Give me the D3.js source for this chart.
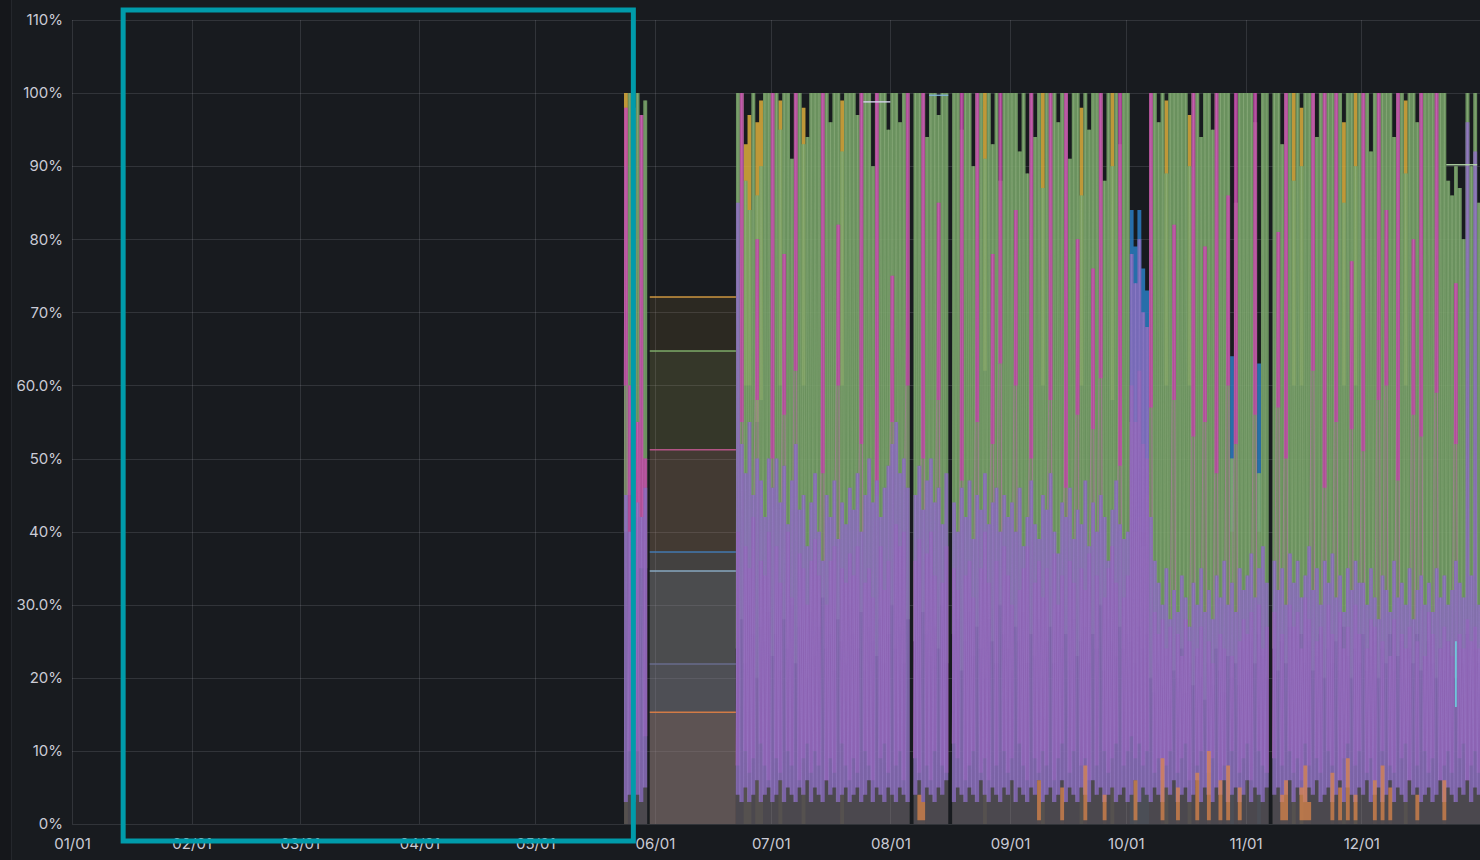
<!DOCTYPE html>
<html>
<head>
<meta charset="utf-8">
<script src="https://cdn.jsdelivr.net/npm/d3@7"></script>
<style>
  html, body { margin: 0; padding: 0; background: #181b1f; }
  svg { display: block; }
</style>
</head>
<body>
<div id="chart"></div>
<script>
const W = 1480, H = 860;
const margin = { top: 20, right: 0, bottom: 36, left: 72 };

const xTickLabels = ['01/01', '02/01', '03/01', '04/01', '05/01', '06/01',
  '07/01', '08/01', '09/01', '10/01', '11/01', '12/01'];
const yTicks = [0, 10, 20, 30, 40, 50, 60, 70, 80, 90, 100, 110];
const yTickLabels = ['0%', '10%', '20%', '30.0%', '40%', '50%', '60.0%',
  '70%', '80%', '90%', '100%', '110%'];

// flat stretch between the two busy periods
const flatStart = '2023-05-30T16:00';
const flatEnd = '2023-06-22T00:00';
const flatValues = [72.1, 64.7, 51.2, 37.2, 34.6, 21.9, 15.3];

// busy periods: one low/high pair per day
const segmentStarts = ['2023-05-24', '2023-06-22'];
const segmentDays = [6, 193];

const greenHi = [
  90, 100, 98, 100, 97, 99,
  100, 100, 88, 84, 100, 86, 90, 100, 100,
  100, 100, 95, 100, 100, 91, 100, 100, 93, 94, 100,
  100, 100, 100, 100, 96, 100, 100, 92, 100, 100,
  100, 97, 100, 100, 100, 90, 100, 100, 100, 95,
  100, 100, 96, 100, 100, null, 100, 100, 100, 94,
  100, 100, 97, 100, 100, null, 100, 100, 95, 100,
  100, 90, 100, 100, 91, 100, 93, 100, 88, 100, 100,
  100, 100, 92, 100, 89, 100, 94, 100, 87, 100,
  100, 100, 96, 100, 100, 91, 100, 100, 86, 100,
  95, 100, 100, 100, 88, 100, 90, 100, 93, 100,
  100, 55, 40, 42, 38, 45, 100, 100, 96, 100,
  89, 100, 100, 100, 100, 100, 90, 100, 100, 94,
  100, 100, 95, 100, 100, 100, 100, 50, 85, 100, 100,
  100, 100, 96, 48, 100, 100, null, 100, 100,
  93, 100, 100, 88, 100, 90, 100, 100, 100, 94,
  100, 100, 100, 100, 100, 100, 85, 100, 100, 90, 100,
  100, 100, 92, 100, 100, 100, 100, 100, 94, 100,
  100, 89, 100, 100, 96, 100, 100, 100, 100, 100,
  100, 100, 88, 86, 90, 87, 80, 100, 90, 100, 85
];
const greenLo = [
  40, 45, 38, 42, 40, 35,
  24, 28, 22, 30, 26, 20, 27, 25, 29, 23,
  26, 21, 28, 24, 30, 22, 27, 25, 20, 29,
  23, 27, 31, 24, 26, 21, 28, 25, 22, 30,
  26, 24, 29, 21, 27, 25, 23, 28, 22, 26,
  30, 24, 27, 22, 28, null, 25, 21, 29, 26,
  23, 27, 24, 30, 22, null, 26, 28, 21, 25,
  29, 23, 27, 24, 20, 28, 25, 22, 30, 26,
  24, 21, 27, 25, 29, 22, 26, 23, 28, 20,
  25, 27, 22, 29, 24, 26, 21, 28, 23, 25,
  27, 22, 26, 24, 30, 21, 28, 25, 23, 27,
  24, 26, 25, 22, 27, 24, 26, 20, 18, 22,
  19, 23, 17, 21, 20, 24, 18, 22, 19, 23,
  20, 17, 22, 19, 24, 21, 18, 23, 20, 22,
  19, 24, 21, 25, 22, 26, 23, 20, null, 24,
  21, 25, 22, 27, 20, 24, 26, 22, 25, 21,
  23, 26, 20, 24, 22, 25, 21, 27, 23, 20,
  24, 22, 26, 21, 23, 25, 20, 24, 22, 26,
  21, 23, 25, 20, 24, 22, 26, 21, 23, 25,
  22, 20, 24, 21, 25, 23, 20, 24, 22, 26,
  21, 24, 22
];
const purpleHi = [
  45, 40, 48, 44, 42, 46,
  85, 52, 48, 55, 45, 50, 47, 42, 50,
  46, 50, 44, 49, 41, 47, 52, 43, 45, 38, 44, 48, 40, 36, 45, 42,
  47, 39, 44, 41, 46, 43, 48, 40, 45, 50, 44, 47, 42, 46, 49,
  52, 55, 48, 50, 46, null, 45, 49, 43, 47, 50, 44, 46, 41, 48, null,
  44, 40, 46, 42, 47, 39, 45, 43, 48, 41, 44, 46, 40, 45, 42,
  44, 40, 46, 38, 42, 47, 41, 39, 45, 43, 48, 40, 37, 44, 42,
  46, 39, 43, 41, 47, 38, 44, 40, 45, 42, 36, 43, 47, 41, 39,
  40, 78, 74, 80, 70, 68, 42, 36, 33, 30, 35, 28, 32, 29, 34, 31,
  27, 33, 30, 35, 29, 32, 28, 34, 31, 36, 30, 33, 29, 35, 32,
  34, 37, 31, 35, 38, 33, null, 36, 32, 35, 30, 37, 33, 36, 31,
  34, 38, 32, 35, 30, 36, 33, 37, 31, 34, 29, 35, 32, 36, 33,
  33, 30, 35, 31, 28, 34, 32, 29, 36, 31, 33, 30, 35, 28, 32, 34,
  30, 33, 29, 35, 31, 34, 30, 32, 36, 33, 31, 96, 34, 92, 30
];
const purpleLo = [
  3, 4, 3, 4, 3, 5,
  4, 3, 5, 3, 4, 6, 3, 4, 5, 3,
  4, 6, 3, 5, 4, 3, 5, 4, 6, 3,
  5, 4, 3, 6, 4, 5, 3, 4, 5, 3,
  4, 5, 3, 4, 6, 3, 5, 4, 3, 5,
  4, 3, 5, 4, 3, null, 4, 6, 3, 5,
  4, 3, 5, 4, 6, null, 3, 5, 4, 3,
  5, 4, 3, 6, 4, 3, 5, 4, 3, 5,
  4, 6, 3, 5, 4, 3, 5, 4, 6, 3,
  4, 5, 3, 4, 6, 3, 5, 4, 3, 5,
  4, 3, 6, 4, 5, 3, 4, 5, 3, 4,
  5, 3, 4, 6, 3, 5, 4, 3, 5, 4,
  3, 5, 4, 6, 3, 4, 5, 3, 4, 6,
  3, 5, 4, 3, 5, 4, 6, 3, 4, 5,
  3, 4, 6, 3, 5, 4, 3, 5, null, 4,
  5, 3, 4, 6, 3, 5, 4, 3, 5, 4,
  6, 3, 4, 5, 3, 4, 6, 3, 5, 4,
  3, 5, 4, 6, 3, 4, 5, 3, 4, 6,
  3, 5, 4, 3, 6, 4, 5, 3, 4, 5,
  3, 4, 6, 3, 5, 4, 3, 5, 4, 6,
  3, 5, 4
];
const pinkHi = [
  98, 60, 95, 55, 97, 50,
  40, 100, 38, 35, 42, 80, 36, 34, 40, 100,
  38, 33, 78, 40, 31, 100, 37, 35, 30, 36,
  39, 34, 100, 30, 36, 38, 82, 35, 33, 37,
  34, 38, 100, 33, 35, 31, 100, 38, 32, 36,
  75, 41, 38, 40, 100, null, 36, 39, 100, 37,
  40, 34, 85, 33, 38, null, 35, 32, 100, 34,
  36, 31, 100, 35, 40, 33, 78, 36, 100, 38,
  34, 30, 84, 32, 35, 38, 100, 33, 36, 31,
  35, 100, 37, 30, 34, 100, 36, 33, 80, 35,
  32, 37, 76, 34, 100, 31, 35, 38, 33, 100,
  31, 34, 60, 55, 62, 52, 50, 100, 29, 26,
  28, 24, 27, 82, 26, 23, 28, 25, 100, 24,
  27, 79, 25, 22, 100, 26, 24, 86, 23, 100,
  25, 28, 26, 29, 100, 30, 24, 27, null, 29,
  81, 26, 100, 30, 27, 29, 24, 31, 28, 100,
  25, 27, 100, 30, 26, 100, 29, 24, 27, 77,
  30, 26, 100, 24, 28, 27, 100, 25, 84, 23,
  28, 100, 26, 24, 27, 80, 25, 100, 23, 29,
  26, 100, 24, 27, 25, 23, 74, 26, 24, 28,
  25, 27, 24
];
const pinkLo = [
  60, 10, 50, 10, 35, 12,
  8, 55, 10, 7, 9, 58, 11, 8, 6, 50,
  9, 7, 56, 10, 8, 62, 6, 9, 11, 7,
  10, 8, 48, 6, 9, 7, 60, 11, 8, 6,
  9, 7, 52, 10, 8, 6, 45, 9, 11, 7,
  55, 8, 10, 6, 60, null, 9, 7, 50, 8,
  6, 10, 58, 8, 7, null, 11, 9, 47, 6,
  8, 10, 55, 7, 9, 6, 52, 8, 63, 10,
  7, 9, 60, 11, 8, 6, 50, 9, 7, 10,
  8, 58, 6, 9, 11, 46, 7, 10, 56, 8,
  9, 6, 54, 8, 61, 10, 7, 9, 11, 49,
  8, 10, 12, 9, 11, 8, 10, 57, 7, 9,
  6, 8, 10, 58, 7, 9, 11, 6, 53, 8,
  10, 55, 7, 9, 48, 6, 8, 60, 10, 52,
  7, 9, 11, 6, 56, 10, 8, 7, null, 9,
  57, 8, 50, 10, 7, 9, 6, 11, 8, 62,
  9, 7, 46, 10, 8, 55, 6, 9, 11, 54,
  8, 10, 51, 7, 9, 6, 58, 10, 60, 8,
  7, 47, 9, 11, 6, 56, 8, 53, 10, 7,
  9, 59, 6, 8, 10, 7, 52, 9, 11, 6,
  8, 10, 7
];

// short series that only show on a few days: [date, low, high]
const yellowSpikes = [
  ['05-24', 70, 100], ['06-24', 60, 93], ['06-25', 60, 97], ['06-27', 55, 96],
  ['06-28', 58, 99], ['07-03', 60, 99], ['07-09', 60, 98], ['07-19', 60, 99],
  ['08-25', 62, 100], ['09-09', 60, 100], ['09-19', 60, 98], ['09-27', 58, 100],
  ['10-11', 60, 99], ['10-17', 60, 97], ['11-13', 60, 100], ['11-15', 60, 98],
  ['11-26', 60, 96], ['11-29', 60, 100], ['12-12', 60, 99]
];
const blueSpikes = [
  ['10-02', 40, 84], ['10-03', 40, 79], ['10-04', 40, 84], ['10-05', 40, 76],
  ['10-06', 40, 73], ['10-28', 40, 64], ['11-04', 40, 63]
];
const orangeSpikes = [
  ['08-08', 0.5, 4], ['08-09', 0.5, 3], ['09-08', 0.5, 6], ['09-14', 0.5, 5],
  ['09-20', 0.5, 8], ['09-25', 0.5, 4], ['10-03', 0.5, 6], ['10-10', 0.5, 9],
  ['10-14', 0.5, 5], ['10-19', 0.5, 7], ['10-22', 0.5, 10], ['10-25', 0.5, 6],
  ['10-27', 0.5, 8], ['10-30', 0.5, 5], ['11-10', 0.5, 4], ['11-11', 0.5, 6],
  ['11-15', 0.5, 5], ['11-16', 0.5, 8], ['11-17', 0.5, 3], ['11-23', 0.5, 7],
  ['11-25', 0.5, 5], ['11-27', 0.5, 9], ['11-29', 0.5, 4], ['12-04', 0.5, 6],
  ['12-06', 0.5, 8], ['12-08', 0.5, 5], ['12-15', 0.5, 4], ['12-22', 0.5, 6]
];
const cyanSpikes = [['12-25', 16, 25]];

// short flat lines near the top
const topFlatStarts = ['07-25', '08-11', '12-23'];
const topFlatEnds = ['08-01', '08-16', '12-31'];
const topFlatValues = [98.8, 99.7, 90.2];

// styles
const flatColors = ['#e0a342', '#86b870', '#c0588f', '#447ebc', '#8fb3cc', '#6a6f94', '#e07f45'];
const topFlatColors = ['#d8d4f0', '#82b5d8', '#b7dbab'];

const parseDay = d3.timeParse('%Y-%m-%d');
const parseTime = d3.timeParse('%Y-%m-%dT%H:%M');
const md = (s) => parseDay('2023-' + s);

const x = d3.scaleTime()
  .domain([new Date(2023, 0, 1), new Date(2024, 0, 1)])
  .range([margin.left, 1481]);
const y = d3.scaleLinear().domain([0, 110]).range([H - margin.bottom, margin.top]);

const svg = d3.select('#chart').append('svg').attr('width', W).attr('height', H);

svg.append('rect').attr('width', W).attr('height', H).attr('fill', '#181b1f');
svg.append('rect').attr('width', 11).attr('height', H).attr('fill', '#15171b');
svg.append('line').attr('x1', 11.5).attr('x2', 11.5).attr('y1', 0).attr('y2', H)
  .attr('stroke', 'rgba(204,204,220,0.07)');

// grid
const monthTicks = d3.timeMonth.range(new Date(2023, 0, 1), new Date(2023, 11, 2));
const grid = svg.append('g').attr('stroke', 'rgba(204,204,220,0.14)').attr('stroke-width', 1);
grid.selectAll('.gy').data(yTicks).join('line')
  .attr('x1', margin.left).attr('x2', W)
  .attr('y1', (d) => Math.round(y(d)) + 0.5).attr('y2', (d) => Math.round(y(d)) + 0.5);
grid.selectAll('.gx').data(monthTicks).join('line')
  .attr('x1', (d) => Math.round(x(d)) + 0.5).attr('x2', (d) => Math.round(x(d)) + 0.5)
  .attr('y1', margin.top).attr('y2', y(0));

const line = d3.line().defined((d) => d.v != null).x((d) => x(d.t)).y((d) => y(d.v));
const band = d3.area().defined((d) => d.hi != null)
  .x((d) => x(d.t)).y0((d) => y(d.lo)).y1((d) => y(d.hi));
const under = d3.area().defined((d) => d.hi != null)
  .x((d) => x(d.t)).y0(y(0)).y1((d) => y(d.hi));

const plot = svg.append('g');

// flat stretch
const fs = parseTime(flatStart), fe = parseTime(flatEnd);
flatValues.forEach((v, i) => {
  const pts = [{ t: fs, lo: 0, hi: v }, { t: fe, lo: 0, hi: v }];
  plot.append('path').datum(pts).attr('d', under)
    .attr('fill', flatColors[i]).attr('fill-opacity', 0.1);
  plot.append('path').datum([{ t: fs, v: v }, { t: fe, v: v }]).attr('d', line)
    .attr('fill', 'none').attr('stroke', flatColors[i])
    .attr('stroke-opacity', 0.9).attr('stroke-width', 1.5);
});

// busy periods
const days = [];
segmentStarts.forEach((s, k) => {
  const start = parseDay(s);
  for (let j = 0; j < segmentDays[k]; j++) {
    days.push({ t: d3.timeDay.offset(start, j), seg: k });
  }
});

// one column per day, from the day's low to its high
function columns(lo, hi) {
  const pts = [];
  days.forEach((d, j) => {
    if (j > 0 && days[j - 1].seg !== d.seg) pts.push({ t: d.t, lo: null, hi: null });
    if (lo[j] == null || hi[j] == null) {
      pts.push({ t: d.t, lo: null, hi: null });
      return;
    }
    pts.push({ t: d.t, lo: lo[j], hi: hi[j] });
    pts.push({ t: d3.timeDay.offset(d.t, 1), lo: lo[j], hi: hi[j] });
  });
  return pts;
}

// the same days as a line going down and up again, for texture
function zigzag(lo, hi) {
  const pts = [];
  days.forEach((d, j) => {
    if (j > 0 && days[j - 1].seg !== d.seg) pts.push({ t: d.t, v: null });
    if (lo[j] == null || hi[j] == null) {
      pts.push({ t: d.t, v: null });
      return;
    }
    pts.push({ t: d.t, v: lo[j] });
    pts.push({ t: d3.timeHour.offset(d.t, 12), v: hi[j] });
  });
  pts.push({ t: d3.timeDay.offset(days[days.length - 1].t, 1), v: lo[lo.length - 1] });
  return pts;
}

function spikeColumns(list) {
  const pts = [];
  list.forEach(([day, lo, hi]) => {
    const t = md(day);
    pts.push({ t: t, lo: lo, hi: hi });
    pts.push({ t: d3.timeDay.offset(t, 1), lo: lo, hi: hi });
    pts.push({ t: d3.timeDay.offset(t, 1), lo: null, hi: null });
  });
  return pts;
}

function drawBand(pts, color, op, underOp, tex, texColor, texOp) {
  plot.append('path').datum(pts).attr('d', under)
    .attr('fill', color).attr('fill-opacity', underOp);
  plot.append('path').datum(pts).attr('d', band)
    .attr('fill', color).attr('fill-opacity', op);
  if (tex) {
    plot.append('path').datum(tex).attr('d', line)
      .attr('fill', 'none').attr('stroke', texColor)
      .attr('stroke-opacity', texOp).attr('stroke-width', 1);
  }
}

drawBand(spikeColumns(yellowSpikes), '#d9ac3c', 0.85, 0.1);
drawBand(spikeColumns(blueSpikes), '#2a7bbf', 0.85, 0.1);
drawBand(columns(greenLo, greenHi), '#75a067', 0.84, 0.32,
  zigzag(greenLo, greenHi), '#9ab88c', 0.3);
drawBand(columns(pinkLo, pinkHi), '#b8469f', 0.85, 0.12,
  zigzag(pinkLo, pinkHi), '#d068be', 0.4);
drawBand(columns(purpleLo, purpleHi), '#8669ba', 0.82, 0.1,
  zigzag(purpleLo, purpleHi), '#a58ad2', 0.25);
drawBand(spikeColumns(orangeSpikes), '#e0874a', 0.7, 0.05);

// thin cyan stroke near the end
cyanSpikes.forEach(([day, lo, hi]) => {
  const t = d3.timeHour.offset(md(day), 12);
  plot.append('path').datum([{ t: t, v: lo }, { t: t, v: hi }]).attr('d', line)
    .attr('fill', 'none').attr('stroke', '#6ed0e0').attr('stroke-width', 1.6);
});

topFlatValues.forEach((v, i) => {
  plot.append('path')
    .datum([{ t: md(topFlatStarts[i]), v: v }, { t: md(topFlatEnds[i]), v: v }])
    .attr('d', line).attr('fill', 'none')
    .attr('stroke', topFlatColors[i]).attr('stroke-width', 1.5).attr('stroke-opacity', 0.9);
});

// axes
const yAxis = d3.axisLeft(y).tickValues(yTicks)
  .tickFormat((d, i) => yTickLabels[i]).tickSize(0).tickPadding(9);
const xAxis = d3.axisBottom(x).tickValues(monthTicks)
  .tickFormat((d, i) => xTickLabels[i]).tickSize(0).tickPadding(14);

svg.append('g').attr('transform', 'translate(' + margin.left + ',0)').call(yAxis)
  .call((g) => g.select('.domain').remove());
svg.append('g').attr('transform', 'translate(0,' + y(0) + ')').call(xAxis)
  .call((g) => g.select('.domain').remove());
svg.selectAll('.tick text')
  .attr('fill', '#cbccd6')
  .attr('font-family', 'Inter, Roboto, sans-serif')
  .attr('font-size', 15);

// highlight box
const boxStart = new Date(2023, 0, 14, 6), boxEnd = new Date(2023, 4, 26, 10);
svg.append('rect')
  .attr('x', x(boxStart)).attr('y', 10)
  .attr('width', x(boxEnd) - x(boxStart))
  .attr('height', 831)
  .attr('fill', 'none').attr('stroke', '#009baa').attr('stroke-width', 5);
</script>
</body>
</html>
